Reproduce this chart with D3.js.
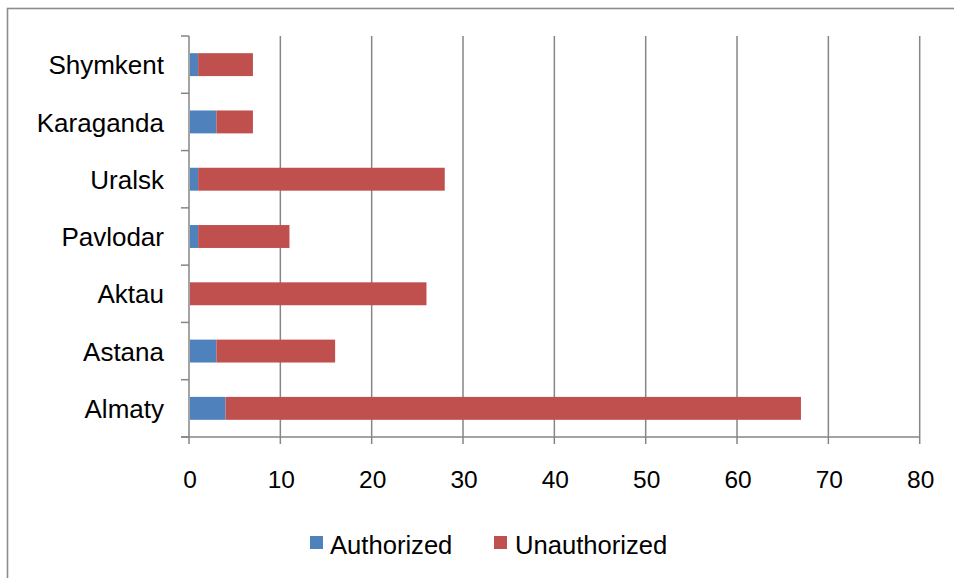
<!DOCTYPE html>
<html>
<head>
<meta charset="utf-8">
<script src="https://cdn.jsdelivr.net/npm/d3@7"></script>
<style>
  html, body { margin: 0; padding: 0; background: #fff; }
  svg { display: block; }
  text { font-family: "Liberation Sans", Arial, sans-serif; fill: #000; }
</style>
</head>
<body>
<svg id="chart" width="954" height="578"></svg>
<script>
const categories = ["Shymkent", "Karaganda", "Uralsk", "Pavlodar", "Aktau", "Astana", "Almaty"];
const authorized = [1, 3, 1, 1, 0, 3, 4];
const unauthorized = [6, 4, 27, 10, 26, 13, 63];
const xTicks = [0, 10, 20, 30, 40, 50, 60, 70, 80];
const seriesNames = ["Authorized", "Unauthorized"];
const seriesColors = ["#4F81BD", "#C0504D"];

const svg = d3.select("#chart");
const gridColor = "#868686";

// outer border (left and top visible)
svg.append("rect")
  .attr("x", 7.5).attr("y", 8.5)
  .attr("width", 1000).attr("height", 1000)
  .attr("fill", "none").attr("stroke", "#8c8c8c").attr("stroke-width", 1.6);

const x = d3.scaleLinear().domain([0, 80]).range([189, 919.7]);
const y = d3.scaleBand().domain(categories).range([36, 437]).paddingInner(0.6).paddingOuter(0.3);
const yEdges = d3.scaleBand().domain(categories).range([36, 437]);

// gridlines
svg.append("g").selectAll("line")
  .data(xTicks.filter(d => d > 0))
  .join("line")
  .attr("x1", d => x(d)).attr("x2", d => x(d))
  .attr("y1", 36).attr("y2", 437)
  .attr("stroke", gridColor).attr("stroke-width", 1.5);

// stacked data
const data = categories.map((c, i) => ({ cat: c, Authorized: authorized[i], Unauthorized: unauthorized[i] }));
const stack = d3.stack().keys(seriesNames)(data);

svg.append("g").selectAll("g")
  .data(stack)
  .join("g")
  .attr("fill", (d, i) => seriesColors[i])
  .selectAll("rect")
  .data(d => d)
  .join("rect")
  .attr("x", d => x(d[0]) + (d[0] === 0 ? 1 : 0))
  .attr("width", d => Math.max(0, x(d[1]) - x(d[0]) - (d[0] === 0 ? 1 : 0)))
  .attr("y", d => y(d.data.cat))
  .attr("height", y.bandwidth());

// y axis line + ticks (category boundaries)
const boundaries = categories.map(c => yEdges(c)).concat([437]);
svg.append("line")
  .attr("x1", 189).attr("x2", 189).attr("y1", 36).attr("y2", 437)
  .attr("stroke", gridColor).attr("stroke-width", 1.5);
svg.append("g").selectAll("line")
  .data(boundaries)
  .join("line")
  .attr("x1", 181).attr("x2", 189)
  .attr("y1", d => d).attr("y2", d => d)
  .attr("stroke", gridColor).attr("stroke-width", 1.5);

// x axis line + ticks
svg.append("line")
  .attr("x1", 181).attr("x2", x(80)).attr("y1", 437).attr("y2", 437)
  .attr("stroke", gridColor).attr("stroke-width", 1.5);
svg.append("g").selectAll("line")
  .data(xTicks)
  .join("line")
  .attr("x1", d => x(d)).attr("x2", d => x(d))
  .attr("y1", 437).attr("y2", 444)
  .attr("stroke", gridColor).attr("stroke-width", 1.5);

// x tick labels
svg.append("g").selectAll("text")
  .data(xTicks)
  .join("text")
  .attr("x", d => x(d) + 1)
  .attr("y", 488)
  .attr("text-anchor", "middle")
  .attr("font-size", 24.5)
  .text(d => d);

// category labels
svg.append("g").selectAll("text")
  .data(categories)
  .join("text")
  .attr("x", 164)
  .attr("y", d => y(d) + y.bandwidth() / 2)
  .attr("dy", "0.37em")
  .attr("text-anchor", "end")
  .attr("font-size", 26)
  .text(d => d);

// legend
const legendPos = [{ sx: 310, tx: 330 }, { sx: 494, tx: 515 }];
const lg = svg.append("g");
seriesNames.forEach((name, i) => {
  lg.append("rect")
    .attr("x", legendPos[i].sx).attr("y", 536)
    .attr("width", 13).attr("height", 13)
    .attr("fill", seriesColors[i]);
  lg.append("text")
    .attr("x", legendPos[i].tx).attr("y", 554)
    .attr("font-size", 25.6)
    .text(name);
});
</script>
</body>
</html>
